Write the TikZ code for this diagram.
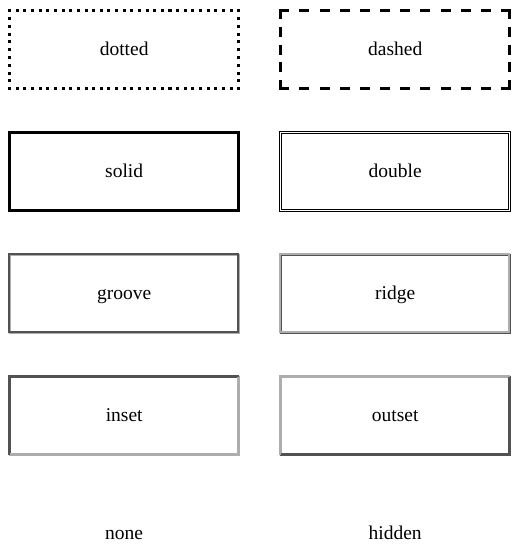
\documentclass[tikz,border=0pt]{standalone}
\usepackage{fontspec}
\setmainfont{Liberation Serif}
\usetikzlibrary{matrix}
\colorlet{bevdark}{black!68}
\colorlet{bevlight}{black!32}
\tikzset{
  cell/.style={minimum width=229pt, minimum height=78pt, inner sep=0pt,
    outer sep=0pt, text height=15pt, text depth=4pt,
    font=\fontsize{19.5}{23}\selectfont},
  edge3/.style={line width=3pt, line cap=rect},
  solidbox/.style={line width=3pt},
  doublebox/.style={line width=1pt, double, double distance=1pt},
  bevel/.style={line width=1.5pt},
}
\begin{document}
\begin{tikzpicture}[x=1pt,y=1pt]
\useasboundingbox (0,0) rectangle (520,-558);
\matrix[
  matrix of nodes,
  nodes={cell},
  column sep=42pt,
  row sep=44pt,
  inner sep=0pt,
  anchor=north west,
] (m) at (9.5,-10.5)
{
dotted & dashed \\
solid & double \\
groove & ridge \\
inset & outset \\[-4pt]
none & hidden \\
};
% dotted
\draw[edge3, dash pattern=on 0.01pt off 7.623pt]
  (m-1-1.north west) -- (m-1-1.north east) (m-1-1.south west) -- (m-1-1.south east);
\draw[edge3, dash pattern=on 0.01pt off 7.79pt]
  (m-1-1.north west) -- (m-1-1.south west) (m-1-1.north east) -- (m-1-1.south east);
% dashed
\draw[edge3, dash pattern=on 7pt off 13.18pt]
  (m-1-2.north west) -- (m-1-2.north east) (m-1-2.south west) -- (m-1-2.south east);
\draw[edge3, dash pattern=on 7pt off 10.75pt]
  (m-1-2.north west) -- (m-1-2.south west) (m-1-2.north east) -- (m-1-2.south east);
\draw[solidbox] (m-2-1.south west) rectangle (m-2-1.north east);
\draw[doublebox] (m-2-2.south west) rectangle (m-2-2.north east);
% two-tone edges: outer/inner of top-left, outer/inner of bottom-right
\foreach \n/\a/\b/\c/\d in {m-3-1/bevdark/bevlight/bevlight/bevdark,
  m-3-2/bevlight/bevdark/bevdark/bevlight,
  m-4-1/bevdark/bevdark/bevlight/bevlight,
  m-4-2/bevlight/bevlight/bevdark/bevdark}
{
  \draw[bevel, draw=\a]
    ([shift={(-0.75pt,-0.75pt)}]\n.south west) -- ([shift={(-0.75pt,0.75pt)}]\n.north west)
    -- ([shift={(0.75pt,0.75pt)}]\n.north east);
  \draw[bevel, draw=\b]
    ([shift={(0.75pt,0.75pt)}]\n.south west) -- ([shift={(0.75pt,-0.75pt)}]\n.north west)
    -- ([shift={(-0.75pt,-0.75pt)}]\n.north east);
  \draw[bevel, draw=\c]
    ([shift={(-0.75pt,-0.75pt)}]\n.south west) -- ([shift={(0.75pt,-0.75pt)}]\n.south east)
    -- ([shift={(0.75pt,0.75pt)}]\n.north east);
  \draw[bevel, draw=\d]
    ([shift={(0.75pt,0.75pt)}]\n.south west) -- ([shift={(-0.75pt,0.75pt)}]\n.south east)
    -- ([shift={(-0.75pt,-0.75pt)}]\n.north east);
}
\end{tikzpicture}
\end{document}
